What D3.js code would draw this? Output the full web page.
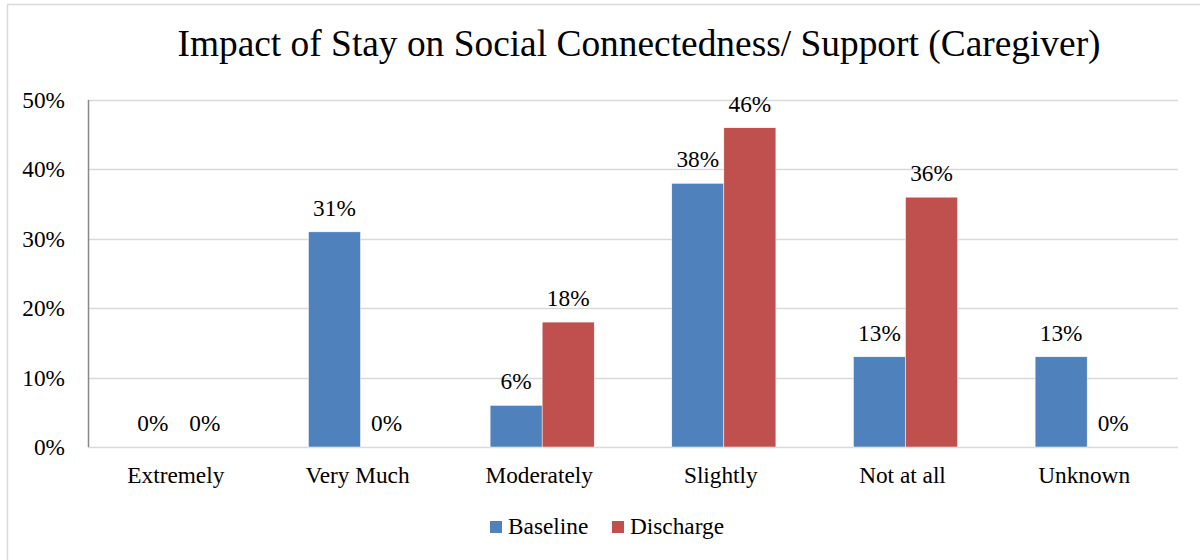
<!DOCTYPE html>
<html>
<head>
<meta charset="utf-8">
<script src="https://cdn.jsdelivr.net/npm/d3@7"></script>
</head>
<body>
<script>
// data
var categories = ["Extremely", "Very Much", "Moderately", "Slightly", "Not at all", "Unknown"];
var seriesNames = ["Baseline", "Discharge"];
var baseline = [0, 31, 6, 38, 13, 13];
var discharge = [0, 0, 18, 46, 36, 0];
var yTicks = [0, 10, 20, 30, 40, 50];
var colors = ["#4F81BD", "#C0504D"];

var width = 1200, height = 560;
var margin = {left: 88, right: 22, top: 100, bottom: 113};
var serif = "'Liberation Serif'";
var fs = "23.3px";

d3.select("body").style("margin", "0px");

var svg = d3.select("body").append("svg")
    .attr("width", width)
    .attr("height", height)
    .style("display", "block");

// outer chart frame
svg.append("rect")
    .attr("x", 7.5).attr("y", 4.5)
    .attr("width", 1200).attr("height", 600)
    .attr("fill", "none")
    .attr("stroke", "#d9d9d9")
    .attr("stroke-width", 1.5);

svg.append("text")
    .attr("x", 639).attr("y", 56)
    .attr("text-anchor", "middle")
    .style("font-family", serif)
    .style("font-size", "37.4px")
    .text("Impact of Stay on Social Connectedness/ Support (Caregiver)");

var x = d3.scaleBand()
    .domain(categories)
    .range([margin.left, width - margin.right]);

// two bars per category, each ~52px wide, centred in the band
var xs = d3.scaleBand()
    .domain(seriesNames)
    .range([0, x.bandwidth()])
    .paddingInner(0)
    .paddingOuter(0.745);

var y = d3.scaleLinear()
    .domain([0, 50])
    .range([height - margin.bottom, margin.top]);

// gridlines
svg.append("g")
    .selectAll("line")
    .data(yTicks)
    .enter().append("line")
    .attr("x1", margin.left).attr("x2", width - margin.right)
    .attr("y1", function (d) { return Math.round(y(d)) + 0.5; })
    .attr("y2", function (d) { return Math.round(y(d)) + 0.5; })
    .attr("stroke", "#d9d9d9")
    .attr("stroke-width", 1.5);

// y axis labels
svg.append("g")
    .selectAll("text")
    .data(yTicks)
    .enter().append("text")
    .attr("x", 65)
    .attr("y", function (d) { return y(d) + 8; })
    .attr("text-anchor", "end")
    .style("font-family", serif)
    .style("font-size", fs)
    .text(function (d) { return d + "%"; });

// bars
var series = [baseline, discharge];
var groups = svg.append("g").selectAll("g")
    .data(seriesNames)
    .enter().append("g")
    .attr("fill", function (d, i) { return colors[i]; });

function rows(s, i) {
    return categories.map(function (c, j) { return {cat: c, s: s, v: series[i][j]}; });
}

groups.selectAll("rect")
    .data(rows)
    .enter().append("rect")
    .attr("x", function (d) { return x(d.cat) + xs(d.s); })
    .attr("width", xs.bandwidth())
    .attr("y", function (d) { return y(d.v); })
    .attr("height", function (d) { return y(0) - y(d.v); })
    .attr("stroke", "#fff")
    .attr("stroke-width", 0.5);

// value labels
groups.selectAll("text")
    .data(rows)
    .enter().append("text")
    .attr("x", function (d) { return x(d.cat) + xs(d.s) + xs.bandwidth() / 2; })
    .attr("y", function (d) { return y(d.v) - 16; })
    .attr("text-anchor", "middle")
    .attr("fill", "#000")
    .style("font-family", serif)
    .style("font-size", fs)
    .text(function (d) { return d.v + "%"; });

// left axis line
svg.append("line")
    .attr("x1", margin.left + 0.5).attr("x2", margin.left + 0.5)
    .attr("y1", y(50)).attr("y2", y(0))
    .attr("stroke", "#888")
    .attr("stroke-width", 1.5);

// category labels
svg.append("g")
    .selectAll("text")
    .data(categories)
    .enter().append("text")
    .attr("x", function (d) { return x(d) + x.bandwidth() / 2 - 3; })
    .attr("y", 483)
    .attr("text-anchor", "middle")
    .style("font-family", serif)
    .style("font-size", fs)
    .text(function (d) { return d; });

// legend
var legendX = [490, 612];
var legend = svg.append("g").selectAll("g")
    .data(seriesNames)
    .enter().append("g")
    .attr("transform", function (d, i) { return "translate(" + legendX[i] + ",521)"; });
legend.append("rect")
    .attr("width", 12).attr("height", 12)
    .attr("fill", function (d, i) { return colors[i]; });
legend.append("text")
    .attr("x", 18).attr("y", 13)
    .style("font-family", serif)
    .style("font-size", fs)
    .text(function (d) { return d; });
</script>
</body>
</html>
